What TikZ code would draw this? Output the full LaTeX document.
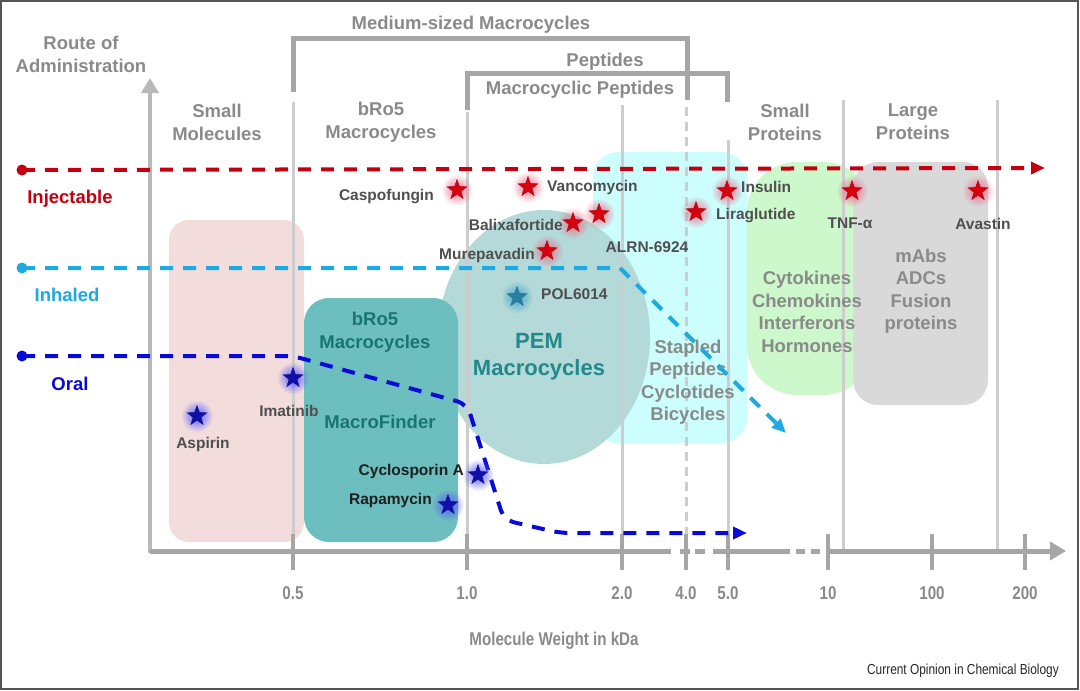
\documentclass[tikz,border=0pt]{standalone}
\usepackage{fontspec}
\setmainfont{Liberation Sans}
\newfontfamily\narrowfont[FakeStretch=0.82]{Liberation Sans}
\usetikzlibrary{arrows.meta,positioning,shapes.geometric,fadings}

\definecolor{injred}{HTML}{C40010}
\definecolor{inhblue}{HTML}{1DA9E2}
\definecolor{oralblue}{HTML}{0A0AD8}
\definecolor{axisgray}{HTML}{A6A6A6}
\definecolor{gridgray}{HTML}{CDCDCD}
\definecolor{labelgray}{HTML}{8A8A8A}
\definecolor{druggray}{HTML}{4F4F4F}
\definecolor{framegray}{HTML}{555555}
\definecolor{smallpink}{HTML}{F2DCDC}
\definecolor{bro5teal}{HTML}{6CBFBE}
\definecolor{pemteal}{HTML}{B3D9D8}
\definecolor{staplecyan}{HTML}{CCFEFE}
\definecolor{cytogreen}{HTML}{CCF8CC}
\definecolor{mabgray}{HTML}{D9D9D9}
\definecolor{darkteal}{HTML}{1A7572}
\definecolor{pemtext}{HTML}{22898A}
\definecolor{redglow}{HTML}{E8708C}
\definecolor{blueglow}{HTML}{5A5AFF}
\definecolor{polglow}{HTML}{3FA8CC}
\definecolor{redstar}{HTML}{D8000E}
\definecolor{bluestar}{HTML}{1010A8}
\definecolor{polstar}{HTML}{2A7FA0}

\tikzfading[name=glowfade, inner color=transparent!0, outer color=transparent!100]

\begin{document}
\begin{tikzpicture}[x=1pt, y=-1pt, >=Stealth,
  collabel/.style={text=labelgray, align=center, font=\fontsize{18.5}{23}\selectfont\bfseries},
  areatext/.style={align=center, font=\fontsize{18.5}{22.5}\selectfont\bfseries},
  druglabel/.style={text=druggray, inner sep=0pt, font=\fontsize{15.5}{18}\selectfont\bfseries},
  routelabel/.style={font=\fontsize{18.5}{22}\selectfont\bfseries},
  ticklabel/.style={text=labelgray, font=\narrowfont\fontsize{18.5}{20}\selectfont\bfseries},
  gridline/.style={gridgray, line width=3pt},
  bracket/.style={axisgray, line width=5pt},
  route/.style={line width=4pt, dash pattern=on 13pt off 10pt},
  routedot/.style={circle, fill=#1, inner sep=0pt, minimum size=11pt},
  glow/.style={circle, fill=#1, inner sep=0pt, minimum size=32pt, path fading=glowfade},
  drugstar/.style={star, star points=5, star point ratio=2.5, inner sep=0pt, minimum size=21pt, fill=#1, draw=#1!80!black, line width=0.4pt}]
\useasboundingbox (0,0) rectangle (1080,691);
\draw[framegray, line width=2pt] (1,1) rectangle (1078,689);

% molecule classes
\fill[smallpink, rounded corners=20pt] (169,220) rectangle (304,542);
\fill[staplecyan, rounded corners=25pt] (593,152) rectangle (747,443);
\fill[cytogreen, rounded corners=50pt] (747,162) rectangle (873,395);
\fill[mabgray, rounded corners=25pt] (853,162) rectangle (988,405);
\fill[pemteal] (544,337) ellipse [x radius=106, y radius=127];
\fill[bro5teal, rounded corners=25pt] (304,298) rectangle (458,542);

% grid and brackets
\foreach \x/\top in {293/102, 467/112, 622/105, 728/140, 843/100, 997/100}
  \draw[gridline] (\x,\top) -- (\x,551);
\draw[gridline, dash pattern=on 9pt off 6pt] (686,107) -- (686,551);
\draw[bracket] (293,92) -- (293,38) -- (687,38) -- (687,100);
\draw[bracket] (467,110) -- (467,73) -- (727,73) -- (727,102);
\node[collabel] (medium) at (471,25) {Medium-sized Macrocycles};
\node[collabel] (peptides) at (605,62) {Peptides};
\node[collabel] (macropep) at (580,90) {Macrocyclic Peptides};
\node[collabel] (smallmol) at (217,122) {Small\\Molecules};
\node[collabel] (bro5col) at (381,122) {bRo5\\Macrocycles};
\node[collabel] (smallprot) at (785,122) {Small\\Proteins};
\node[collabel] (largeprot) at (913,122) {Large\\Proteins};
\node[collabel] (route) at (81,54) {Route of\\Administration};

% axes
\draw[gridgray!90!black, line width=4pt, -{Triangle[length=15pt,width=17pt]}] (150,553) -- (150,78);
\draw[axisgray, line width=5pt] (150,551) -- (671,551) (680,551) -- (690,551) (695,551) -- (705,551)
  (713,551) -- (790,551) (796,551) -- (805,551) (811,551) -- (820,551);
\draw[axisgray, line width=5pt, -{Triangle[length=16pt,width=18pt]}] (826,551) -- (1066,551);
\foreach \x/\lbl in {293/0.5, 467/1.0, 622/2.0, 686/4.0, 728/5.0, 828/10, 932/100, 1025/200} {
  \draw[axisgray, line width=4pt] (\x,534) -- (\x,570);
  \node[ticklabel] at (\x,593) {\lbl};
}
\node[ticklabel, font=\narrowfont\fontsize{18.5}{22}\selectfont\bfseries] (xtitle) at (554,641) {Molecule Weight in kDa};
\node[text=black!85, anchor=east, inner sep=0pt, font=\fontsize{14.5}{16}\narrowfont] (credit) at (1059,671) {Current Opinion in Chemical Biology};

% region texts
\node[areatext, text=darkteal] (bro5txt) at (375,332) {bRo5\\Macrocycles};
\node[areatext, text=darkteal] (finder) at (380,422) {MacroFinder};
\node[areatext, text=pemtext, font=\fontsize{22}{27}\selectfont\bfseries] (pemtxt) at (539,357) {PEM\\Macrocycles};
\node[areatext, text=labelgray] (stapled) at (688,382) {Stapled\\Peptides\\Cyclotides\\Bicycles};
\node[areatext, text=labelgray] (cyto) at (807,312) {Cytokines\\Chemokines\\Interferons\\Hormones};
\node[areatext, text=labelgray] (mabs) at (921,291) {mAbs\\ADCs\\Fusion\\proteins};

% routes of administration
\node[routedot=injred] (injdot) at (22,170) {};
\node[routedot=inhblue] (inhdot) at (22,268) {};
\node[routedot=oralblue] (oraldot) at (22,356) {};
\coordinate (injend) at (1045,168);
\coordinate (inhbend) at (620,268);
\coordinate (inhend) at (786,433);
\coordinate (oralbend) at (293,356);
\coordinate (oralknee) at (467,404);
\coordinate (oralfoot) at (504,520);
\coordinate (oralflat) at (560,533);
\coordinate (oralend) at (747,533);
\draw[route, injred, -{Triangle[length=14pt,width=12pt]}] (injdot.center) -- (injend);
\draw[route, inhblue, -{Triangle[length=14pt,width=12pt]}] (inhdot.center) -- (inhbend) -- (inhend);
\draw[route, oralblue, rounded corners=10pt, -{Triangle[length=14pt,width=12pt]}] (oraldot.center) -- (oralbend) -- (oralknee) -- (oralfoot) -- (oralflat) -- (oralend);
\node[routelabel, text=injred] (injlbl) at (70,199) {Injectable};
\node[routelabel, text=inhblue] (inhlbl) at (67,295) {Inhaled};
\node[routelabel, text=oralblue] (orallbl) at (70,384) {Oral};

% drugs
\foreach \n/\p in {caspo/{(457,190)}, vanco/{(528,187)}, balix/{(573,223)}, alrn/{(599,214)}, murep/{(547,251)},
    lira/{(696,212)}, insulin/{(727,191)}, tnf/{(852,191)}, avastin/{(978,191)}} {
  \node[glow=redglow] at \p {};
  \node[drugstar=redstar] (\n) at \p {};
}
\foreach \n/\p in {imatinib/{(293,378)}, aspirin/{(197,416)}, cyclo/{(478,475)}, rapa/{(448,505)}} {
  \node[glow=blueglow] at \p {};
  \node[drugstar=bluestar] (\n) at \p {};
}
\node[glow=polglow] at (517,297) {};
\node[drugstar=polstar] (pol) at (517,297) {};

\node[druglabel, left=17pt of caspo, yshift=-7pt] (caspolbl) {Caspofungin};
\node[druglabel, right=13pt of vanco] (vancolbl) {Vancomycin};
\node[druglabel, left=4pt of balix, yshift=-2pt] (balixlbl) {Balixafortide};
\node[druglabel] (alrnlbl) at (647,247) {ALRN-6924};
\node[druglabel, left=6pt of murep, yshift=-4pt] (mureplbl) {Murepavadin};
\node[druglabel, right=14pt of lira, yshift=-4pt] (liralbl) {Liraglutide};
\node[druglabel, right=8pt of insulin, yshift=4pt] (insulinlbl) {Insulin};
\node[druglabel] (tnflbl) at (850,223) {TNF-α};
\node[druglabel] (avastinlbl) at (983,224) {Avastin};
\node[druglabel, right=18pt of pol, yshift=3pt] (pollbl) {POL6014};
\node[druglabel] (imatiniblbl) at (289,411) {Imatinib};
\node[druglabel] (aspirinlbl) at (203,444) {Aspirin};
\node[druglabel, text=black!88, left=8pt of cyclo, yshift=4pt] (cyclolbl) {Cyclosporin A};
\node[druglabel, text=black!88, left=10pt of rapa, yshift=5pt] (rapalbl) {Rapamycin};
\end{tikzpicture}
\end{document}
